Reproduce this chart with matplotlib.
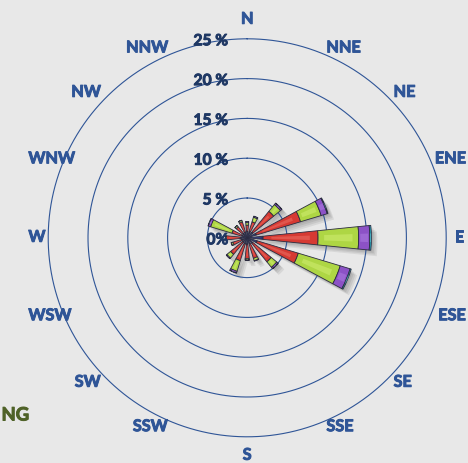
import numpy as np
import matplotlib
matplotlib.use("Agg")
import matplotlib.pyplot as plt
import matplotlib.patheffects as pe
from matplotlib.transforms import ScaledTranslation

# Wind directions (16-point compass) and their bearings in degrees
directions = ["N", "NNE", "NE", "ENE", "E", "ESE", "SE", "SSE",
              "S", "SSW", "SW", "WSW", "W", "WNW", "NW", "NNW"]
bearings = np.arange(16) * 22.5

# Frequency (%) per speed class, stacked outward from the centre
speed_class_1 = [0.8, 0.8, 0.9, 1.2, 2.0, 1.3, 0.9, 0.8, 0.8, 0.8, 0.7, 0.7, 0.8, 0.7, 0.7, 0.7]
speed_class_2 = [0.8, 1.3, 3.4, 5.8, 6.9, 5.4, 3.0, 1.9, 1.8, 2.2, 2.0, 1.2, 1.8, 1.3, 1.1, 1.4]
speed_class_3 = [0.3, 0.6, 1.1, 2.7, 5.1, 5.5, 0.9, 0.3, 0.2, 1.4, 0.6, 0.2, 0.1, 2.8, 0.2, 0.2]
speed_class_4 = [0.1, 0.1, 0.2, 0.8, 1.4, 1.3, 0.2, 0.05, 0.0, 0.2, 0.1, 0.0, 0.0, 0.3, 0.0, 0.0]
speed_class_5 = [0.05, 0.05, 0.05, 0.1, 0.2, 0.15, 0.05, 0.0, 0.0, 0.05, 0.0, 0.0, 0.0, 0.05, 0.0, 0.0]

ring_values = [5, 10, 15, 20, 25]
ring_labels = ["5 %", "10 %", "15 %", "20 %", "25 %"]

series = [speed_class_1, speed_class_2, speed_class_3, speed_class_4, speed_class_5]
colors = ["#2a3470", "#d63a33", "#aed644", "#8c52c6", "#27a9bd"]
highlights = ["#4a5aa0", "#f07a6e", "#d6f27a", "#b285e6", "#6fd6e4"]

BG = "#e8e8e8"
RING = "#2f5597"
LABEL = "#2f5597"
RLABEL = "#1f3864"
FONT = "Lato"

W_PX, H_PX = 468, 463
DPI = 100
fig = plt.figure(figsize=(W_PX / DPI, H_PX / DPI), dpi=DPI, facecolor=BG)

R_PX = 199.0
cx, cy = 247.2, H_PX - 237.8
theta = np.deg2rad(bearings)
width = np.deg2rad(11.5)
totals = np.sum(np.array(series), axis=0)


def polar_axes(dx=0.0, dy=0.0, z=0):
    a = fig.add_axes([(cx - R_PX + dx) / W_PX, (cy - R_PX + dy) / H_PX,
                      2 * R_PX / W_PX, 2 * R_PX / H_PX], projection="polar", zorder=z)
    a.set_theta_zero_location("N")
    a.set_theta_direction(-1)
    a.set_ylim(0, 25)
    a.set_facecolor("none")
    a.grid(False)
    a.spines["polar"].set_visible(False)
    a.set_xticks([])
    a.set_yticks([])
    return a


# Soft drop shadow: the full wedges drawn a few pixels down-right
for off in [1.5, 3.0, 4.5, 6.0]:
    sh = polar_axes(off, -off, z=-1)
    sh.bar(theta, totals, width=width, bottom=0, color="#000000",
           alpha=0.07, linewidth=0)

ax = polar_axes(z=1)

# Concentric frequency rings
circle = np.linspace(0, 2 * np.pi, 400)
for r in ring_values:
    ax.plot(circle, np.full_like(circle, r), color=RING, lw=0.8, zorder=1, clip_on=False)

# Stacked wedges with a bevel-like highlight
bottom = np.zeros(16)
for vals, col, hi in zip(series, colors, highlights):
    vals = np.array(vals)
    ax.bar(theta, vals, width=width, bottom=bottom, color=col,
           edgecolor="#2b2b3f", linewidth=0.6, zorder=3)
    ax.bar(theta, vals * 0.7, width=width * 0.35, bottom=bottom + vals * 0.15,
           color=hi, alpha=0.45, linewidth=0, zorder=4)
    bottom = bottom + vals


def heavy(color):
    return [pe.withStroke(linewidth=0.7, foreground=color)]


# Ring value labels, just left of the vertical axis
lab_off = ScaledTranslation(-19 / DPI, -2.5 / DPI, fig.dpi_scale_trans)
for r, txt in zip([0] + ring_values, ["0%"] + ring_labels):
    ax.text(0, r, txt, transform=ax.transData + lab_off, ha="right", va="center",
            color=RLABEL, fontsize=11.2, fontweight="bold", family=FONT, zorder=6,
            path_effects=heavy(RLABEL))

# Compass labels outside the outer ring
fig.canvas.draw()
renderer = fig.canvas.get_renderer()
for name, b in zip(directions, bearings):
    t = ax.text(np.deg2rad(b), 25, name, ha="center", va="center", color=LABEL,
                fontsize=11.7, fontweight="bold", family=FONT, clip_on=False,
                path_effects=heavy(LABEL))
    w = t.get_window_extent(renderer).width
    s, c = np.sin(np.deg2rad(b)), np.cos(np.deg2rad(b))
    if abs(s) < 1e-6:
        px, py = 0.0, c * (R_PX + 19)
    else:
        px = s * (R_PX + 8) + np.sign(s) * w / 2
        py = c * (R_PX + 6)
    # keep the text inside the figure
    limit = min(cx, W_PX - cx) - w / 2 - 2
    px = float(np.clip(px, -limit, limit))
    t.set_position((np.arctan2(px, py), 25 * np.hypot(px, py) / R_PX))

fig.text(1.5 / W_PX, (H_PX - 415) / H_PX, "NG", ha="left", va="center",
         color="#4f6228", fontsize=13.3, fontweight="bold", family=FONT,
         path_effects=heavy("#4f6228"))

fig.savefig("out.png", dpi=DPI, facecolor=BG)
